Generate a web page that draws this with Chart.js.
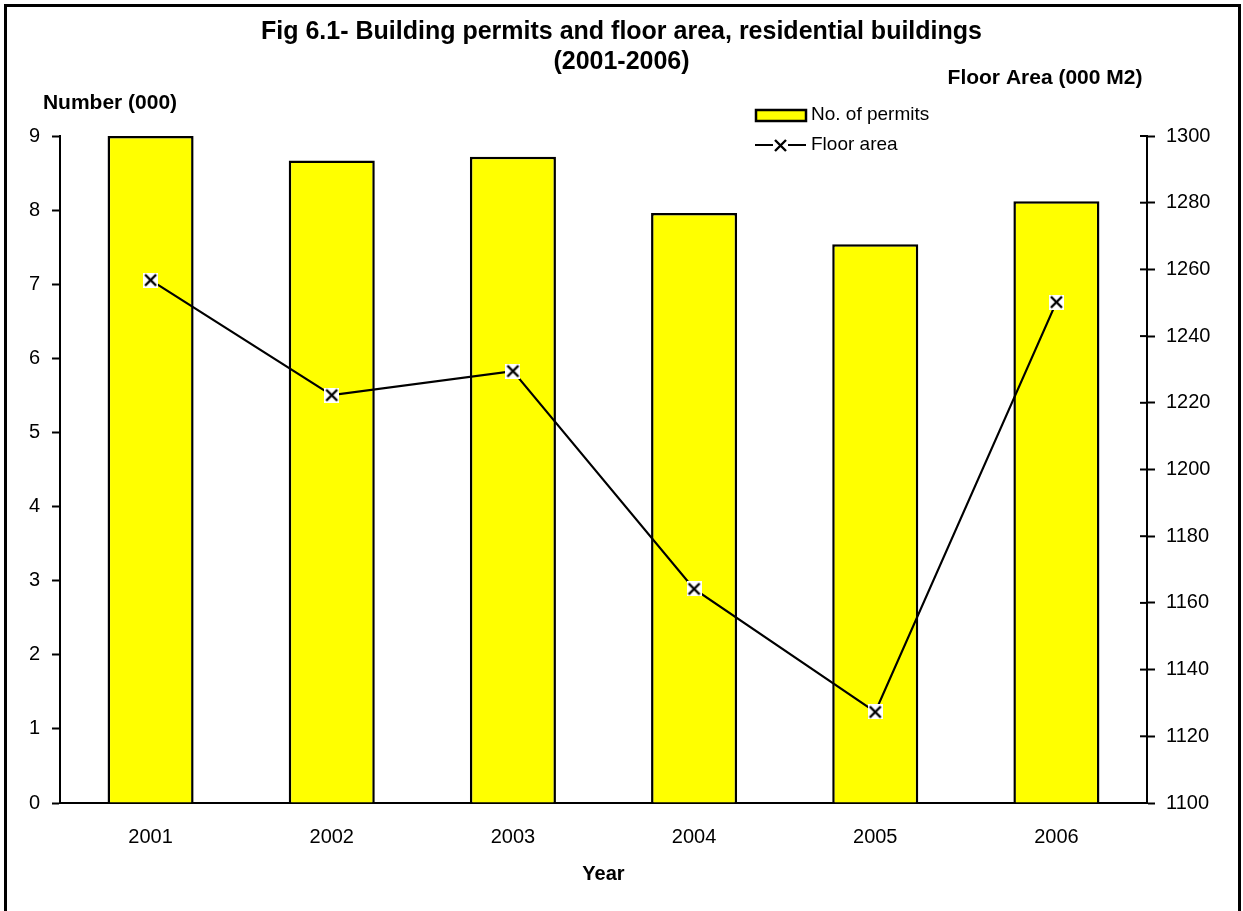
<!DOCTYPE html>
<html lang="en">
<head>
    <meta charset="UTF-8">
    <title>Fig 6.1 - Building permits and floor area</title>
    <script src="https://cdn.jsdelivr.net/npm/chart.js"></script>
    <style>
        body {
            margin: 0;
            background: #fff;
            overflow: hidden;
        }

        #wrap {
            position: relative;
            width: 1243px;
            height: 911px;
        }

        #frame {
            position: absolute;
            left: 4px;
            top: 4px;
            width: 1237px;
            height: 930px;
            border: 3px solid #000;
            box-sizing: border-box;
            pointer-events: none;
        }
    </style>
</head>
<body>
    <div id="wrap">
        <canvas id="permitsChart"></canvas>
        <div id="frame"></div>
    </div>

    <script>
        const years = ['2001', '2002', '2003', '2004', '2005', '2006'];
        const permits = [9.0, 8.67, 8.72, 7.96, 7.54, 8.12];          // Number (000)
        const floorArea = [1256.8, 1222.3, 1229.5, 1164.2, 1127.3, 1250.2]; // 000 M2
        const titleLines = ['Fig 6.1- Building permits and floor area, residential buildings', '(2001-2006)'];
        const leftAxisTitle = 'Number (000)';
        const rightAxisTitle = 'Floor Area (000 M2)';
        const xAxisTitle = 'Year';
        const permitsLabel = 'No. of permits';
        const floorLabel = 'Floor area';

        Chart.defaults.font.family = 'Arial, "Liberation Sans", sans-serif';
        Chart.defaults.color = '#000';

        // white square with a black x, like the excel marker
        function makeMarker() {
            const c = document.createElement('canvas');
            c.width = 15;
            c.height = 15;
            const g = c.getContext('2d');
            g.fillStyle = '#fff';
            g.fillRect(0, 0, 15, 15);
            g.strokeStyle = '#000';
            g.lineWidth = 2.4;
            g.beginPath();
            g.moveTo(2, 2); g.lineTo(13, 13);
            g.moveTo(13, 2); g.lineTo(2, 13);
            g.stroke();
            return c;
        }
        const marker = makeMarker();

        // axis titles, legend and the inner half of the right ticks
        const extras = {
            id: 'extras',
            afterDraw(chart) {
                const ctx = chart.ctx;
                ctx.save();
                ctx.fillStyle = '#000';
                ctx.strokeStyle = '#000';
                ctx.font = 'bold 21px Arial, "Liberation Sans", sans-serif';
                ctx.textAlign = 'center';
                ctx.textBaseline = 'middle';
                ctx.fillText(leftAxisTitle, 110, 103);
                ctx.fillText(rightAxisTitle, 1045, 78);

                const r = chart.scales.y1;
                ctx.lineWidth = 2;
                r.ticks.forEach(t => {
                    const y = r.getPixelForValue(t.value);
                    ctx.beginPath();
                    ctx.moveTo(r.left - 7, y);
                    ctx.lineTo(r.left, y);
                    ctx.stroke();
                });

                // legend
                const bar = chart.data.datasets[1];
                ctx.lineWidth = 2.5;
                ctx.fillStyle = bar.backgroundColor;
                ctx.fillRect(756, 110, 50, 11);
                ctx.strokeRect(756, 110, 50, 11);
                ctx.lineWidth = 2;
                ctx.beginPath();
                ctx.moveTo(755, 145);
                ctx.lineTo(806, 145);
                ctx.stroke();
                ctx.drawImage(marker, 780 - 7, 145 - 7);
                ctx.fillStyle = '#000';
                ctx.font = '19px Arial, "Liberation Sans", sans-serif';
                ctx.textAlign = 'left';
                ctx.fillText(bar.label, 811, 115);
                ctx.fillText(chart.data.datasets[0].label, 811, 145);
                ctx.restore();
            }
        };

        const ctx = document.getElementById('permitsChart').getContext('2d');
        const chart = new Chart(ctx, {
            data: {
                labels: years,
                datasets: [{
                    type: 'line',
                    label: floorLabel,
                    data: floorArea,
                    yAxisID: 'y1',
                    borderColor: '#000',
                    borderWidth: 2.2,
                    tension: 0,
                    fill: false,
                    pointStyle: marker,
                    order: 0
                }, {
                    type: 'bar',
                    label: permitsLabel,
                    data: permits,
                    yAxisID: 'y',
                    backgroundColor: '#FFFF00',
                    borderColor: '#000',
                    borderWidth: 2.5,
                    categoryPercentage: 1,
                    barPercentage: 0.475,
                    order: 1
                }]
            },
            options: {
                responsive: true,
                maintainAspectRatio: false,
                animation: false,
                layout: { padding: 0 },
                plugins: {
                    legend: { display: false },
                    tooltip: { enabled: false },
                    title: {
                        display: true,
                        text: titleLines,
                        color: '#000',
                        font: { size: 25, weight: 'bold', lineHeight: 1.2 },
                        padding: { top: 17, bottom: 59 }
                    }
                },
                scales: {
                    x: {
                        grid: { display: false },
                        border: { color: '#000', width: 2 },
                        ticks: { color: '#000', font: { size: 20 }, padding: 14 },
                        title: {
                            display: true,
                            text: xAxisTitle,
                            color: '#000',
                            font: { size: 20, weight: 'bold' },
                            padding: { top: 0, bottom: 25 }
                        },
                        afterFit: s => { s.height = 108; }
                    },
                    y: {
                        position: 'left',
                        min: 0,
                        max: 9,
                        ticks: { stepSize: 1, color: '#000', font: { size: 20 }, padding: 12 },
                        grid: { drawOnChartArea: false, tickLength: 8, tickWidth: 2, tickColor: '#000' },
                        border: { color: '#000', width: 2 },
                        afterFit: s => { s.width = 60; }
                    },
                    y1: {
                        position: 'right',
                        min: 1100,
                        max: 1300,
                        ticks: {
                            stepSize: 20,
                            color: '#000',
                            font: { size: 20 },
                            padding: 11,
                            callback: v => String(v)
                        },
                        grid: { drawOnChartArea: false, tickLength: 8, tickWidth: 2, tickColor: '#000' },
                        border: { color: '#000', width: 2 },
                        afterFit: s => { s.width = 96; }
                    }
                }
            },
            plugins: [extras]
        });
    </script>
</body>
</html>
